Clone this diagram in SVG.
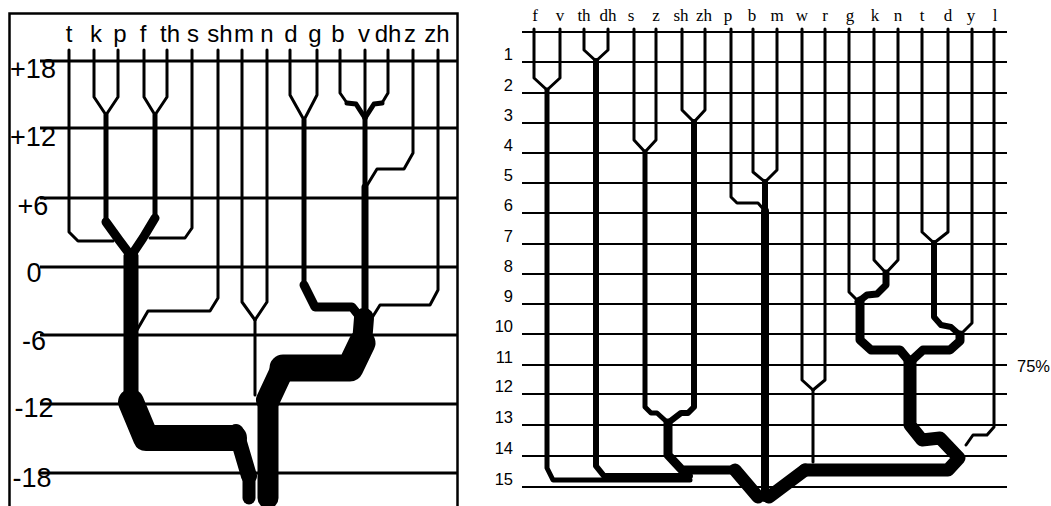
<svg xmlns="http://www.w3.org/2000/svg" width="1051" height="506" viewBox="0 0 1051 506">
<style>
.bg{fill:#fff}
.grid{stroke:#000;stroke-width:3;fill:none}
.grid2{stroke:#000;stroke-width:2;fill:none}
.frame{stroke:#000;stroke-width:2.5;fill:none}
.ln{stroke:#000;fill:none;stroke-linejoin:round;stroke-linecap:round}
.t3{stroke-width:3}
.lab{font-family:"Liberation Sans",Arial,sans-serif;font-size:24px;fill:#000;text-anchor:middle}
.row{font-family:"Liberation Sans",Arial,sans-serif;font-size:27px;fill:#000;text-anchor:middle}
.lab2{font-family:"Liberation Serif","Times New Roman",serif;font-size:17px;fill:#000;text-anchor:middle}
.row2{font-family:"Liberation Sans",Arial,sans-serif;font-size:16.5px;fill:#000;text-anchor:end}
</style>
<rect class="bg" x="0" y="0" width="1051" height="506"/>

<!-- LEFT PANEL -->
<g id="left-frame">
<rect class="frame" x="9.5" y="13.5" width="448" height="510"/>
</g>
<g id="left-grid">
<line class="grid" x1="40" y1="61" x2="457" y2="61"/>
<line class="grid" x1="40" y1="128" x2="457" y2="128"/>
<line class="grid" x1="40" y1="198" x2="457" y2="198"/>
<line class="grid" x1="40" y1="267" x2="457" y2="267"/>
<line class="grid" x1="40" y1="335" x2="457" y2="335"/>
<line class="grid" x1="40" y1="404" x2="457" y2="404"/>
<line class="grid" x1="40" y1="473" x2="457" y2="473"/>
<text class="row" x="33" y="78">+18</text>
<text class="row" x="33" y="146">+12</text>
<text class="row" x="33" y="215">+6</text>
<text class="row" x="34" y="282">0</text>
<text class="row" x="34" y="350">-6</text>
<text class="row" x="34" y="417">-12</text>
<text class="row" x="32" y="487">-18</text>
</g>
<g id="left-nodes">
<g id="L-t"><text class="lab" x="69" y="42">t</text></g>
<g id="L-k"><text class="lab" x="96" y="42">k</text></g>
<g id="L-p"><text class="lab" x="120" y="42">p</text></g>
<g id="L-f"><text class="lab" x="143" y="42">f</text></g>
<g id="L-th"><text class="lab" x="170" y="42">th</text></g>
<g id="L-s"><text class="lab" x="193" y="42">s</text></g>
<g id="L-sh"><text class="lab" x="220" y="42">sh</text></g>
<g id="L-m"><text class="lab" x="244" y="42">m</text></g>
<g id="L-n"><text class="lab" x="267" y="42">n</text></g>
<g id="L-d"><text class="lab" x="291" y="42">d</text></g>
<g id="L-g"><text class="lab" x="315" y="42">g</text></g>
<g id="L-b"><text class="lab" x="338" y="42">b</text></g>
<g id="L-v"><text class="lab" x="364" y="42">v</text></g>
<g id="L-dh"><text class="lab" x="388" y="42">dh</text></g>
<g id="L-z"><text class="lab" x="410" y="42">z</text></g>
<g id="L-zh"><text class="lab" x="437" y="42">zh</text></g>
</g>
<g id="left-connectors" class="ln">
<polyline class="t3" points="69,50 69,232 78,241 113,241"/>
<polyline class="t3" points="94,50 94,97 106,115"/>
<polyline class="t3" points="118,50 118,97 106,115"/>
<polyline class="t3" points="144,50 144,97 155,115"/>
<polyline class="t3" points="167,50 167,97 155,115"/>
<polyline class="t3" points="192,50 192,228 185,238 150,238"/>
<polyline class="t3" points="218,50 218,298 210,311 148,311 137,330"/>
<polyline class="t3" points="242,50 242,302 255,320"/>
<polyline class="t3" points="267,50 267,302 255,320"/>
<polyline class="t3" points="255,320 255,395"/>
<polyline class="t3" points="290,50 290,95 304,120"/>
<polyline class="t3" points="317,50 317,95 304,120"/>
<polyline class="t3" points="340,50 340,93 347,103"/>
<polyline class="t3" points="365,50 365,118"/>
<polyline class="t3" points="388,50 388,93 382,103"/>
<polyline class="t3" points="413,50 413,153 404,169 377,169 366,187"/>
<polyline class="t3" points="438,50 438,290 430,305 380,305 370,321"/>
<polyline stroke-width="5" points="106,115 106,222"/>
<polyline stroke-width="9" points="106,222 119,240 131,256"/>
<polyline stroke-width="5" points="155,115 155,218"/>
<polyline stroke-width="9" points="155,218 143,238 131,256"/>
<polyline stroke-width="15" points="131,256 131,402"/>
<polyline stroke-width="26" points="131,402 146,438 234,438"/>
<polyline stroke-width="16" points="236,432 249,476"/>
<polyline stroke-width="13" points="249,476 249,498"/>
<polyline stroke-width="5" points="304,120 304,285"/>
<polyline stroke-width="9" points="304,285 315,307 352,307 364,322"/>
<polyline stroke-width="5" points="347,103 356,104 365,118"/>
<polyline stroke-width="5" points="382,103 374,104 365,118"/>
<polyline stroke-width="5" points="365,118 365,187"/>
<polyline stroke-width="7" points="365,187 365,320"/>
<polyline stroke-width="20" points="364,318 362,343"/>
<polyline stroke-width="27" points="362,343 350,368 283,368"/>
<polyline stroke-width="24" points="283,368 268,400"/>
<polyline stroke-width="21" points="268,400 268,498"/>
</g>

<!-- RIGHT PANEL -->
<g id="right-grid">
<line class="grid2" x1="522" y1="32" x2="1007" y2="32"/>
<line class="grid2" x1="522" y1="62" x2="1007" y2="62"/>
<line class="grid2" x1="522" y1="93" x2="1007" y2="93"/>
<line class="grid2" x1="522" y1="123" x2="1007" y2="123"/>
<line class="grid2" x1="522" y1="153" x2="1007" y2="153"/>
<line class="grid2" x1="522" y1="183" x2="1007" y2="183"/>
<line class="grid2" x1="522" y1="213" x2="1007" y2="213"/>
<line class="grid2" x1="522" y1="244" x2="1007" y2="244"/>
<line class="grid2" x1="522" y1="274" x2="1007" y2="274"/>
<line class="grid2" x1="522" y1="304" x2="1007" y2="304"/>
<line class="grid2" x1="522" y1="334" x2="1007" y2="334"/>
<line class="grid2" x1="522" y1="365" x2="1007" y2="365"/>
<line class="grid2" x1="522" y1="394" x2="1007" y2="394"/>
<line class="grid2" x1="522" y1="425" x2="1007" y2="425"/>
<line class="grid2" x1="522" y1="456" x2="1007" y2="456"/>
<line class="grid2" x1="522" y1="487" x2="1007" y2="487"/>
<text class="row2" x="513" y="60">1</text>
<text class="row2" x="513" y="91">2</text>
<text class="row2" x="513" y="121">3</text>
<text class="row2" x="513" y="151">4</text>
<text class="row2" x="513" y="181">5</text>
<text class="row2" x="513" y="211">6</text>
<text class="row2" x="513" y="242">7</text>
<text class="row2" x="513" y="272">8</text>
<text class="row2" x="513" y="302">9</text>
<text class="row2" x="513" y="332">10</text>
<text class="row2" x="513" y="363">11</text>
<text class="row2" x="513" y="392">12</text>
<text class="row2" x="513" y="423">13</text>
<text class="row2" x="513" y="454">14</text>
<text class="row2" x="513" y="485">15</text>
<text class="row2" x="1050" y="372">75%</text>
</g>
<g id="right-nodes">
<g id="R-f"><text class="lab2" x="535" y="21">f</text></g>
<g id="R-v"><text class="lab2" x="560" y="21">v</text></g>
<g id="R-th"><text class="lab2" x="584" y="21">th</text></g>
<g id="R-dh"><text class="lab2" x="608" y="21">dh</text></g>
<g id="R-s"><text class="lab2" x="631" y="21">s</text></g>
<g id="R-z"><text class="lab2" x="656" y="21">z</text></g>
<g id="R-sh"><text class="lab2" x="681" y="21">sh</text></g>
<g id="R-zh"><text class="lab2" x="704" y="21">zh</text></g>
<g id="R-p"><text class="lab2" x="728" y="21">p</text></g>
<g id="R-b"><text class="lab2" x="752" y="21">b</text></g>
<g id="R-m"><text class="lab2" x="777" y="21">m</text></g>
<g id="R-w"><text class="lab2" x="802" y="21">w</text></g>
<g id="R-r"><text class="lab2" x="825" y="21">r</text></g>
<g id="R-g"><text class="lab2" x="850" y="21">g</text></g>
<g id="R-k"><text class="lab2" x="875" y="21">k</text></g>
<g id="R-n"><text class="lab2" x="898" y="21">n</text></g>
<g id="R-t"><text class="lab2" x="922" y="21">t</text></g>
<g id="R-d"><text class="lab2" x="948" y="21">d</text></g>
<g id="R-y"><text class="lab2" x="971" y="21">y</text></g>
<g id="R-l"><text class="lab2" x="995" y="21">l</text></g>
</g>
<g id="right-connectors" class="ln">
<polyline class="t3" points="534,29 534,78 547,90"/>
<polyline class="t3" points="560,29 560,78 547,90"/>
<polyline class="t3" points="584,29 584,50 596,61"/>
<polyline class="t3" points="608,29 608,50 596,61"/>
<polyline class="t3" points="634,29 634,140 645,152"/>
<polyline class="t3" points="656,29 656,140 645,152"/>
<polyline class="t3" points="682,29 682,110 694,122"/>
<polyline class="t3" points="705,29 705,110 694,122"/>
<polyline class="t3" points="731,29 731,197 737,203 758,203 765,211"/>
<polyline class="t3" points="753,29 753,172 765,182"/>
<polyline class="t3" points="777,29 777,170 765,182"/>
<polyline class="t3" points="802,29 802,380 813,390"/>
<polyline class="t3" points="825,29 825,380 813,390"/>
<polyline class="t3" points="813,390 813,462"/>
<polyline class="t3" points="849,29 849,292 858,301"/>
<polyline class="t3" points="874,29 874,260 886,273"/>
<polyline class="t3" points="898,29 898,260 886,273"/>
<polyline class="t3" points="922,29 922,232 934,243"/>
<polyline class="t3" points="948,29 948,232 934,243"/>
<polyline class="t3" points="972,29 972,323 960,335"/>
<polyline class="t3" points="994,29 994,427 987,435 973,435 966,445"/>
<polyline stroke-width="5" points="547,90 547,468 553,480 690,480"/>
<polyline stroke-width="6" points="596,61 596,466 604,476 690,476"/>
<polyline stroke-width="5" points="645,152 645,407 651,413 657,413 668,423"/>
<polyline stroke-width="6" points="694,122 694,407 688,413 681,413 668,423"/>
<polyline stroke-width="9" points="668,423 668,455 682,470 735,470"/>
<polyline stroke-width="13" points="735,470 758,497"/>
<polyline stroke-width="6" points="765,182 765,211"/>
<polyline stroke-width="8" points="765,211 765,498"/>
<polyline stroke-width="13" points="805,470 769,497"/>
<polyline stroke-width="7" points="886,273 886,285 877,294 867,295 858,302"/>
<polyline stroke-width="9" points="860,301 860,340 871,350 900,350 910,362"/>
<polyline stroke-width="6" points="934,243 934,317 941,325 951,327 960,335"/>
<polyline stroke-width="9" points="960,335 960,341 950,350 923,350 910,362"/>
<polyline stroke-width="13" points="910,362 910,425 922,440 940,438 959,458 948,470 805,470"/>
</g>
</svg>
